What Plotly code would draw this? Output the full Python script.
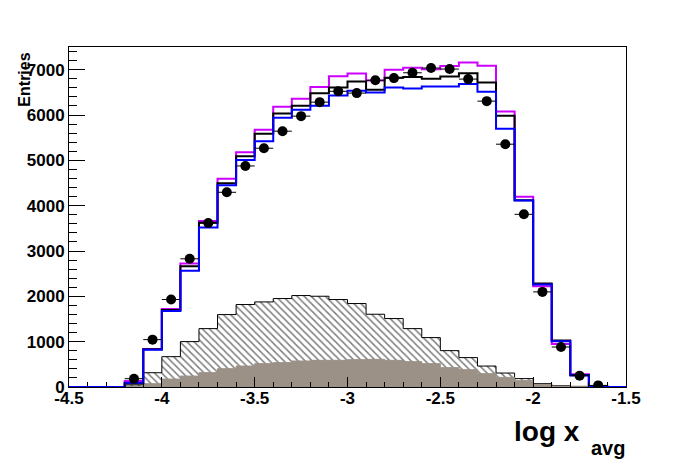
import numpy as np
import plotly.graph_objects as go

# ---- binning: 30 bins of width 0.1 from -4.5 to -1.5 ----
bin_edges = [round(-4.5 + 0.1 * i, 2) for i in range(31)]
bin_centers = [round(e + 0.05, 3) for e in bin_edges[:-1]]

# ---- series (entries per bin) ----
data_vals = [0, 0, 0, 183, 1045, 1930, 2828, 3616, 4295, 4876, 5267, 5643, 5975, 6284, 6523,
             6483, 6766, 6814, 6932, 7036, 7013, 6792, 6306, 5356, 3809, 2098, 882, 250, 35, 0]
mc_magenta = [0, 0, 0, 135, 838, 1722, 2725, 3660, 4596, 5180, 5672, 6180, 6357, 6620, 6855,
              6915, 6760, 6998, 7045, 7010, 7080, 7160, 7085, 6077, 4195, 2224, 949, 279, 5, 0]
mc_black = [0, 0, 0, 75, 830, 1700, 2666, 3623, 4494, 5090, 5584, 6035, 6202, 6480, 6607,
            6737, 6556, 6820, 6840, 6799, 6850, 6920, 6718, 5981, 4118, 2283, 1023, 265, 5, 0]
mc_blue = [0, 0, 0, 95, 824, 1678, 2562, 3521, 4449, 5009, 5420, 5940, 6114, 6205, 6430,
           6535, 6497, 6607, 6582, 6629, 6629, 6682, 6515, 5698, 4112, 2261, 1008, 256, 10, 0]
hatched_vals = [0, 0, 0, 45, 315, 669, 1001, 1288, 1597, 1819, 1877, 1951, 2017, 2002, 1929,
                1841, 1605, 1510, 1288, 1090, 802, 648, 462, 308, 185, 73, 32, 14, 25, 0]
gray_vals = [0, 0, 0, 10, 73, 175, 241, 316, 404, 462, 515, 537, 573, 588, 588,
             603, 610, 588, 559, 515, 427, 382, 294, 212, 140, 55, 22, 8, 4, 0]

x_ticks = [-4.5, -4, -3.5, -3, -2.5, -2, -1.5]
x_ticktext = ["-4.5", "-4", "-3.5", "-3", "-2.5", "-2", "-1.5"]
y_ticks = [0, 1000, 2000, 3000, 4000, 5000, 6000, 7000]
y_ticktext = ["0", "1000", "2000", "3000", "4000", "5000", "6000", "7000"]


def step_xy(vals):
    return bin_edges, list(vals) + [vals[-1]]


FONT = "Liberation Sans, Arial, Helvetica, sans-serif"

fig = go.Figure()

hx, hy = step_xy(hatched_vals)
fig.add_trace(go.Scatter(
    x=hx, y=hy, mode="lines", line=dict(shape="hv", color="black", width=1),
    fill="tozeroy", fillcolor="white",
    fillpattern=dict(shape="\\", fgcolor="black", bgcolor="white", size=5, solidity=0.3),
    showlegend=False, hoverinfo="skip"))

gx, gy = step_xy(gray_vals)
fig.add_trace(go.Scatter(
    x=gx, y=gy, mode="lines", line=dict(shape="hv", color="#9b9187", width=1),
    fill="tozeroy", fillcolor="#9b9187", showlegend=False, hoverinfo="skip"))

for vals, col in [(mc_magenta, "#cc00ff"), (mc_black, "black"), (mc_blue, "#0000ff")]:
    sx, sy = step_xy(vals)
    fig.add_trace(go.Scatter(x=sx, y=sy, mode="lines",
                             line=dict(shape="hv", color=col, width=2),
                             showlegend=False, hoverinfo="skip"))

dx = [c for c, v in zip(bin_centers, data_vals) if v > 0]
dy = [v for v in data_vals if v > 0]
fig.add_trace(go.Scatter(
    x=dx, y=dy, mode="markers",
    marker=dict(color="black", size=10, symbol="circle"),
    error_x=dict(type="constant", value=0.05, color="black", thickness=1, width=0),
    error_y=dict(type="data", array=list(np.sqrt(dy)), color="black", thickness=1, width=0),
    showlegend=False))

tickfont = dict(family=FONT, size=17, color="black", weight="bold")
axis_common = dict(showline=True, linecolor="black", linewidth=1, mirror=True,
                   showgrid=False, zeroline=False, ticks="inside", tickcolor="black",
                   tickwidth=1, tickfont=tickfont)

fig.update_xaxes(range=[-4.5, -1.5], tickvals=x_ticks,
                 ticktext=["<b>%s</b>" % t for t in x_ticktext], ticklen=10,
                 ticklabelstandoff=-4,
                 minor=dict(dtick=0.1, tick0=-4.5, ticks="inside", ticklen=5,
                            tickcolor="black", showgrid=False),
                 **axis_common)
fig.update_yaxes(range=[0, 7500], tickvals=y_ticks,
                 ticktext=["<b>%s</b>" % t for t in y_ticktext], ticklen=16,
                 minor=dict(dtick=200, tick0=0, ticks="inside", ticklen=8,
                            tickcolor="black", showgrid=False),
                 **axis_common)

fig.add_annotation(text="<b>Entries</b>", xref="paper", yref="paper", x=-0.079, y=0.904,
                   textangle=-90, showarrow=False, xanchor="center", yanchor="middle",
                   font=dict(family=FONT, size=16, color="black", weight="bold"))
fig.add_annotation(text="<b>log x</b>", xref="paper", yref="paper",
                   x=0.921, y=-0.078, showarrow=False, xanchor="right", yanchor="top",
                   font=dict(family=FONT, size=28, color="black", weight="bold"))
fig.add_annotation(text="<b>avg</b>", xref="paper", yref="paper",
                   x=1.002, y=-0.141, showarrow=False, xanchor="right", yanchor="top",
                   font=dict(family=FONT, size=20, color="black", weight="bold"))

# page body adds an 8px offset; the figure is sized/margined to compensate
fig.update_layout(width=688, height=464, margin=dict(l=61, r=70, t=39, b=85),
                  paper_bgcolor="white", plot_bgcolor="white",
                  font=dict(family=FONT, color="black"))

fig.write_html("out.html")
